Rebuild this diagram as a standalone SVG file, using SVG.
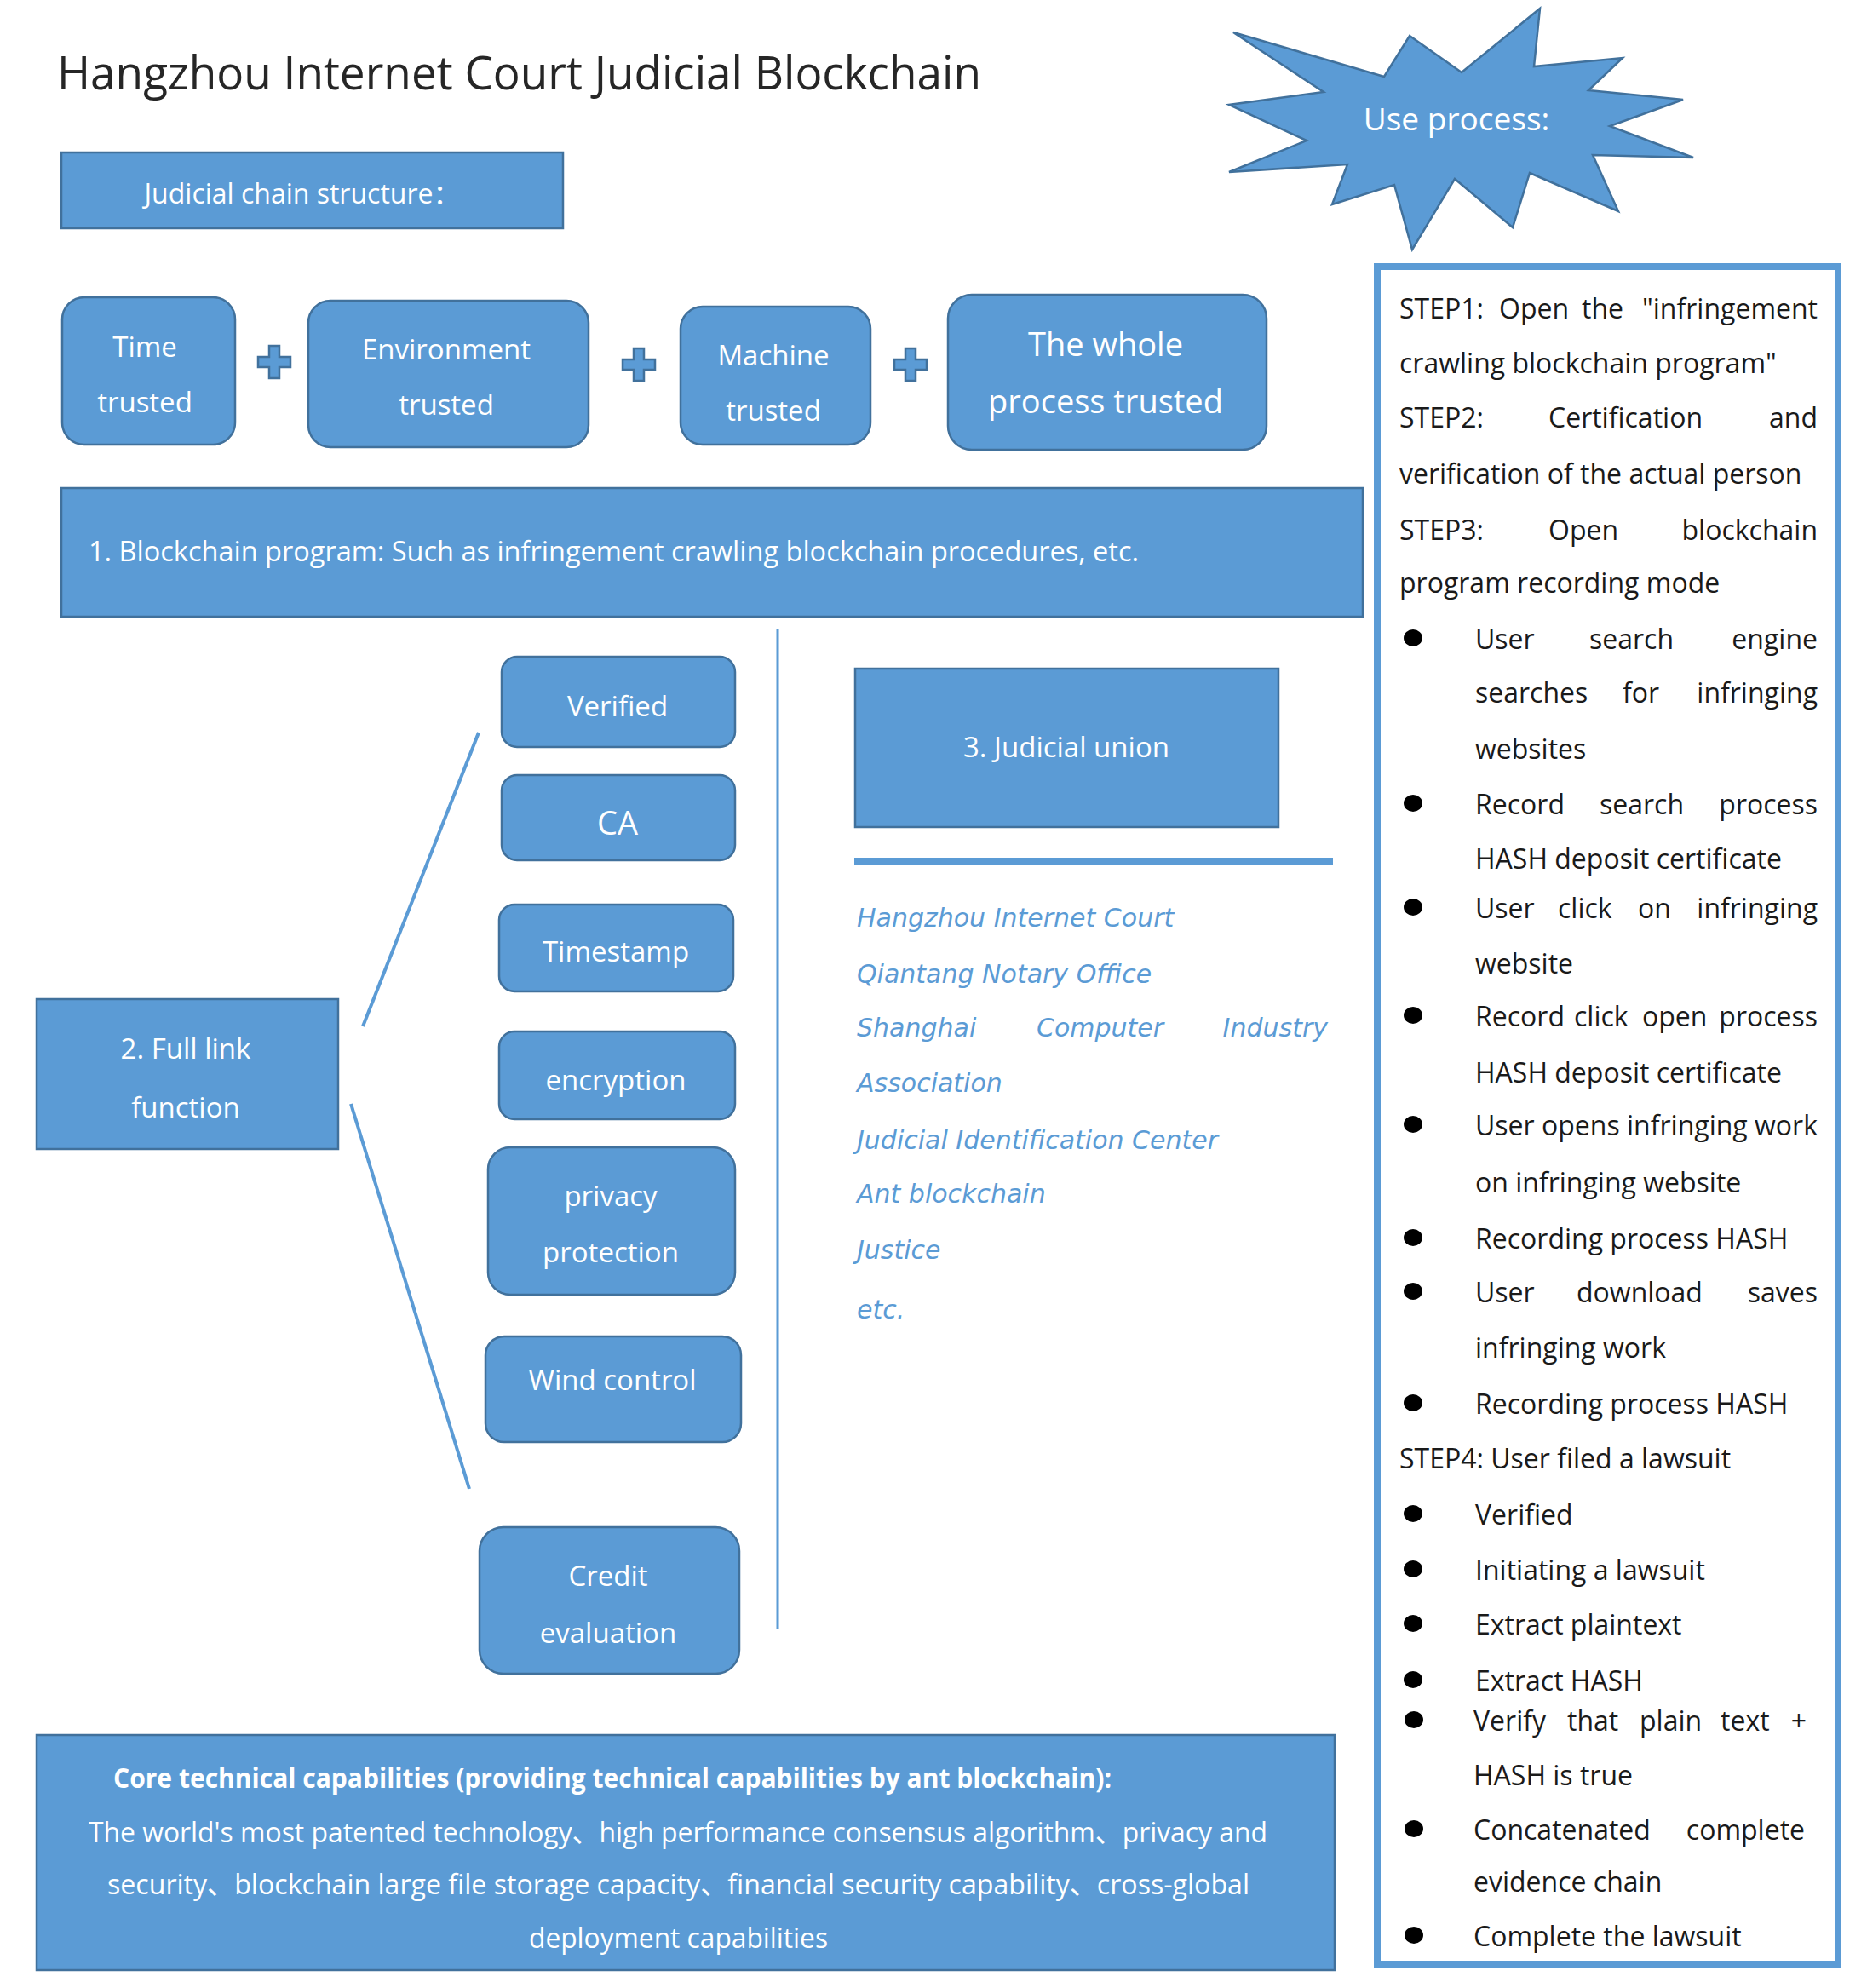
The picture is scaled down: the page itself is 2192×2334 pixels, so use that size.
<svg xmlns="http://www.w3.org/2000/svg" width="2192" height="2334" viewBox="0 0 2192 2334">
<style>
.box{fill:#5B9BD5;stroke:#41719C;stroke-width:2.5}
.lbl{font-family:"Open Sans","Liberation Sans","Noto Sans CJK SC",sans-serif;fill:#ffffff;font-size:33px;text-anchor:middle}
.lbl38{font-size:38px}
.core{font-family:"Open Sans","Liberation Sans","Noto Sans CJK SC",sans-serif;fill:#ffffff;font-size:32px}
.it{font-family:"DejaVu Sans","Liberation Sans",sans-serif;font-style:italic;fill:#5B9BD5;font-size:30px}
.rt{font-family:"Open Sans","Liberation Sans",sans-serif;fill:#1a1a1a;font-size:32px}
.rte{text-anchor:end}
.conn{stroke:#5B9BD5;fill:none}
.bul{fill:#000000}
</style>
<rect width="2192" height="2334" fill="#ffffff"/>

<g id="title">
<text x="67" y="105" font-family="Open Sans, Liberation Sans, sans-serif" font-size="54" fill="#262626" textLength="1085" lengthAdjust="spacingAndGlyphs">Hangzhou Internet Court Judicial Blockchain</text>
</g>

<g id="chain-structure">
<rect class="box" x="72" y="179" width="589" height="89"/>
<text class="lbl" x="355" y="239" style="font-size:32px">Judicial chain structure：</text>
</g>

<g id="use-process">
<polygon class="box" points="1448,38 1625,90 1655,42 1716,85 1808,10 1801,78 1905,68 1865,106 1976,117 1890,148 1988,185 1870,182 1900,248 1796,203 1776,267 1708,210 1658,293 1637,217 1564,240 1582,193 1443,202 1534,165 1443,123 1554,108"/>
<text class="lbl" x="1710" y="153" style="font-size:37px">Use process:</text>
</g>

<g id="time-trusted">
<rect class="box" x="73" y="349" width="203" height="173" rx="26"/>
<text class="lbl" x="170" y="419">Time</text>
<text class="lbl" x="170" y="484">trusted</text>
</g>
<g id="plus1"><path class="box" d="M316,406h12v13h13v12h-13v13h-12v-13h-13v-12h13z"/></g>
<g id="environment-trusted">
<rect class="box" x="362" y="353" width="329" height="172" rx="26"/>
<text class="lbl" x="524" y="422">Environment</text>
<text class="lbl" x="524" y="487">trusted</text>
</g>
<g id="plus2"><path class="box" d="M744,409h12v13h13v12h-13v13h-12v-13h-13v-12h13z"/></g>
<g id="machine-trusted">
<rect class="box" x="799" y="360" width="223" height="162" rx="26"/>
<text class="lbl" x="908" y="429">Machine</text>
<text class="lbl" x="908" y="494">trusted</text>
</g>
<g id="plus3"><path class="box" d="M1063,409h12v13h13v12h-13v13h-12v-13h-13v-12h13z"/></g>
<g id="whole-process-trusted">
<rect class="box" x="1113" y="346" width="374" height="182" rx="28"/>
<text class="lbl lbl38" x="1298" y="418">The whole</text>
<text class="lbl lbl38" x="1298" y="485">process trusted</text>
</g>

<g id="blockchain-program">
<rect class="box" x="72" y="573" width="1528" height="151"/>
<text class="core" x="104" y="659" textLength="1233" lengthAdjust="spacingAndGlyphs">1. Blockchain program: Such as infringement crawling blockchain procedures, etc.</text>
</g>

<g id="connectors">
<line class="conn" x1="913" y1="738" x2="913" y2="1913" stroke-width="3"/>
<line class="conn" x1="426" y1="1205" x2="562" y2="860" stroke-width="4"/>
<line class="conn" x1="412" y1="1296" x2="551" y2="1748" stroke-width="4"/>
<line class="conn" x1="1003" y1="1011" x2="1565" y2="1011" stroke-width="8"/>
</g>

<g id="full-link-function">
<rect class="box" x="43" y="1173" width="354" height="176"/>
<text class="lbl" x="218" y="1243">2. Full link</text>
<text class="lbl" x="218" y="1312">function</text>
</g>

<g id="verified">
<rect class="box" x="589" y="771" width="274" height="106" rx="18"/>
<text class="lbl" x="725" y="841">Verified</text>
</g>
<g id="ca">
<rect class="box" x="589" y="910" width="274" height="100" rx="18"/>
<text class="lbl" x="725" y="980" style="font-size:38px">CA</text>
</g>
<g id="timestamp">
<rect class="box" x="586" y="1062" width="275" height="102" rx="18"/>
<text class="lbl" x="723" y="1129">Timestamp</text>
</g>
<g id="encryption">
<rect class="box" x="586" y="1211" width="277" height="103" rx="18"/>
<text class="lbl" x="723" y="1280">encryption</text>
</g>
<g id="privacy-protection">
<rect class="box" x="573" y="1347" width="290" height="173" rx="26"/>
<text class="lbl" x="717" y="1416">privacy</text>
<text class="lbl" x="717" y="1482">protection</text>
</g>
<g id="wind-control">
<rect class="box" x="570" y="1569" width="300" height="124" rx="22"/>
<text class="lbl" x="719" y="1632">Wind control</text>
</g>
<g id="credit-evaluation">
<rect class="box" x="563" y="1793" width="305" height="172" rx="28"/>
<text class="lbl" x="714" y="1862">Credit</text>
<text class="lbl" x="714" y="1929">evaluation</text>
</g>

<g id="judicial-union">
<rect class="box" x="1004" y="785" width="497" height="186"/>
<text class="lbl" x="1252" y="889">3. Judicial union</text>
</g>

<g id="union-members">
<text class="it" x="1006" y="1088">Hangzhou Internet Court</text>
<text class="it" x="1006" y="1154">Qiantang Notary Office</text>
<text class="it" x="1006" y="1217">Shanghai</text>
<text class="it" x="1217" y="1217">Computer</text>
<text class="it" x="1559" y="1217" text-anchor="end">Industry</text>
<text class="it" x="1006" y="1282">Association</text>
<text class="it" x="1006" y="1349">Judicial Identification Center</text>
<text class="it" x="1006" y="1412">Ant blockchain</text>
<text class="it" x="1006" y="1478">Justice</text>
<text class="it" x="1006" y="1548">etc.</text>
</g>

<g id="core-capabilities">
<rect class="box" x="43" y="2037" width="1524" height="276"/>
<text class="core" x="133" y="2099" font-weight="bold" textLength="1172" lengthAdjust="spacingAndGlyphs">Core technical capabilities (providing technical capabilities by ant blockchain):</text>
<text class="core" x="104" y="2163" textLength="1384" lengthAdjust="spacingAndGlyphs">The world's most patented technology、high performance consensus algorithm、privacy and</text>
<text class="core" x="126" y="2224" textLength="1341" lengthAdjust="spacingAndGlyphs">security、blockchain large file storage capacity、financial security capability、cross-global</text>
<text class="core" x="621" y="2287" textLength="351" lengthAdjust="spacingAndGlyphs">deployment capabilities</text>
</g>

<g id="use-process-steps">
<rect x="1617" y="313" width="541" height="1993" fill="#ffffff" stroke="#5B9BD5" stroke-width="8"/>
<text class="rt" x="1643" y="374">STEP1:</text>
<text class="rt" x="1760" y="374">Open</text>
<text class="rt" x="1857" y="374">the</text>
<text class="rt rte" x="2134" y="374">"infringement</text>
<text class="rt" x="1643" y="438">crawling blockchain program"</text>
<text class="rt" x="1643" y="502">STEP2:</text>
<text class="rt" x="1818" y="502">Certification</text>
<text class="rt rte" x="2134" y="502">and</text>
<text class="rt" x="1643" y="568">verification of the actual person</text>
<text class="rt" x="1643" y="634">STEP3:</text>
<text class="rt" x="1818" y="634">Open</text>
<text class="rt rte" x="2134" y="634">blockchain</text>
<text class="rt" x="1643" y="696">program recording mode</text>

<ellipse class="bul" cx="1659" cy="749" rx="11" ry="10"/>
<text class="rt" x="1732" y="762">User</text>
<text class="rt" x="1866" y="762">search</text>
<text class="rt rte" x="2134" y="762">engine</text>
<text class="rt" x="1732" y="825">searches</text>
<text class="rt" x="1905" y="825">for</text>
<text class="rt rte" x="2134" y="825">infringing</text>
<text class="rt" x="1732" y="891">websites</text>

<ellipse class="bul" cx="1659" cy="943" rx="11" ry="10"/>
<text class="rt" x="1732" y="956">Record</text>
<text class="rt" x="1878" y="956">search</text>
<text class="rt rte" x="2134" y="956">process</text>
<text class="rt" x="1732" y="1020">HASH deposit certificate</text>

<ellipse class="bul" cx="1659" cy="1065" rx="11" ry="10"/>
<text class="rt" x="1732" y="1078">User</text>
<text class="rt" x="1829" y="1078">click</text>
<text class="rt" x="1923" y="1078">on</text>
<text class="rt rte" x="2134" y="1078">infringing</text>
<text class="rt" x="1732" y="1143">website</text>

<ellipse class="bul" cx="1659" cy="1192" rx="11" ry="10"/>
<text class="rt" x="1732" y="1205">Record</text>
<text class="rt" x="1848" y="1205">click</text>
<text class="rt" x="1928" y="1205">open</text>
<text class="rt rte" x="2134" y="1205">process</text>
<text class="rt" x="1732" y="1271">HASH deposit certificate</text>

<ellipse class="bul" cx="1659" cy="1320" rx="11" ry="10"/>
<text class="rt" x="1732" y="1333" textLength="402" lengthAdjust="spacing">User opens infringing work</text>
<text class="rt" x="1732" y="1400">on infringing website</text>

<ellipse class="bul" cx="1659" cy="1453" rx="11" ry="10"/>
<text class="rt" x="1732" y="1466">Recording process HASH</text>

<ellipse class="bul" cx="1659" cy="1516" rx="11" ry="10"/>
<text class="rt" x="1732" y="1529">User</text>
<text class="rt" x="1851" y="1529">download</text>
<text class="rt rte" x="2134" y="1529">saves</text>
<text class="rt" x="1732" y="1594">infringing work</text>

<ellipse class="bul" cx="1659" cy="1647" rx="11" ry="10"/>
<text class="rt" x="1732" y="1660">Recording process HASH</text>

<text class="rt" x="1643" y="1724">STEP4: User filed a lawsuit</text>

<ellipse class="bul" cx="1659" cy="1777" rx="11" ry="10"/>
<text class="rt" x="1732" y="1790">Verified</text>
<ellipse class="bul" cx="1659" cy="1842" rx="11" ry="10"/>
<text class="rt" x="1732" y="1855">Initiating a lawsuit</text>
<ellipse class="bul" cx="1659" cy="1906" rx="11" ry="10"/>
<text class="rt" x="1732" y="1919">Extract plaintext</text>
<ellipse class="bul" cx="1659" cy="1972" rx="11" ry="10"/>
<text class="rt" x="1732" y="1985">Extract HASH</text>
<ellipse class="bul" cx="1660" cy="2019" rx="11" ry="10"/>
<text class="rt" x="1730" y="2032">Verify</text>
<text class="rt" x="1840" y="2032">that</text>
<text class="rt" x="1925" y="2032">plain</text>
<text class="rt" x="2020" y="2032">text</text>
<text class="rt rte" x="2121" y="2032">+</text>
<text class="rt" x="1730" y="2096">HASH is true</text>
<ellipse class="bul" cx="1660" cy="2147" rx="11" ry="10"/>
<text class="rt" x="1730" y="2160">Concatenated</text>
<text class="rt rte" x="2119" y="2160">complete</text>
<text class="rt" x="1730" y="2221">evidence chain</text>
<ellipse class="bul" cx="1660" cy="2272" rx="11" ry="10"/>
<text class="rt" x="1730" y="2285">Complete the lawsuit</text>
</g>
</svg>
